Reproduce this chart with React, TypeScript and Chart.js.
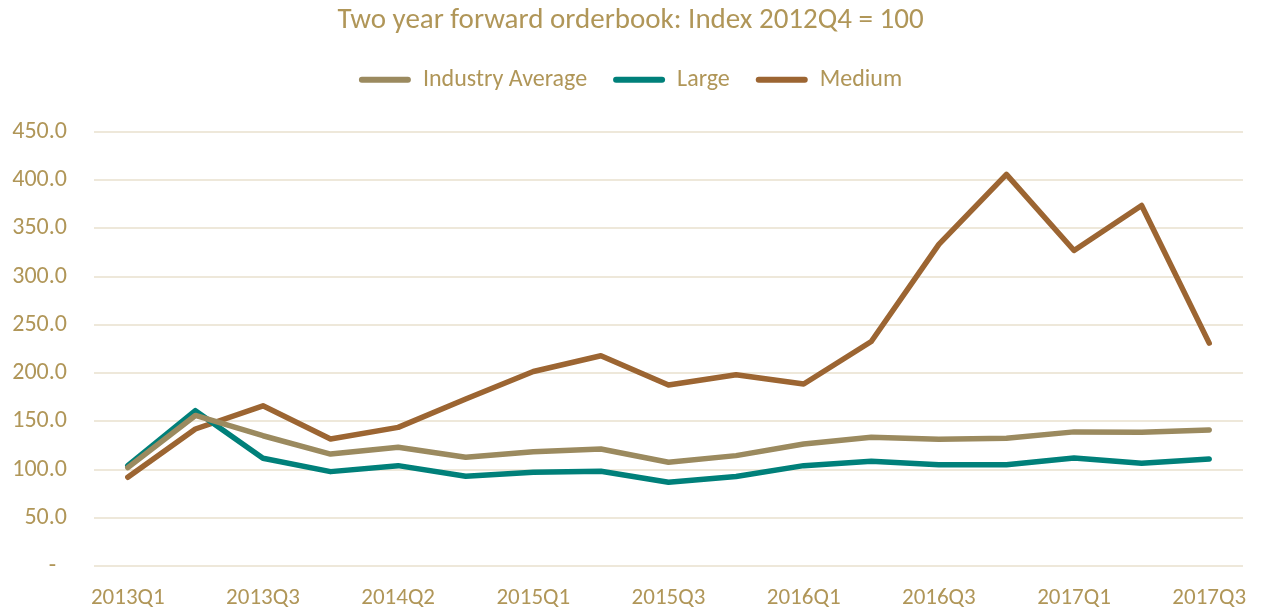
import React, { useEffect, useRef } from "react";
import { Chart, registerables } from "chart.js";

Chart.register(...registerables);

const categories = [
  "2013Q1", "2013Q2", "2013Q3", "2013Q4", "2014Q2", "2014Q3", "2015Q1", "2015Q2",
  "2015Q3", "2015Q4", "2016Q1", "2016Q2", "2016Q3", "2016Q4", "2017Q1", "2017Q2", "2017Q3",
];
const industryAverage = [102, 156, 135, 116, 123, 112.7, 118.5, 121.3, 107.5, 114.4, 126.5, 133.5, 131.3, 132.5, 139, 138.5, 141];
const large = [104, 161, 111.6, 97.8, 104, 93, 97.2, 98.2, 86.8, 92.7, 104, 108.5, 105, 105, 112, 106.5, 111];
const medium = [92, 142, 166, 131.7, 143.7, 173, 201.6, 217.9, 187.5, 198.2, 188.6, 232.7, 333.4, 405.8, 327, 373.7, 231];

const TEXT = "#B09658";
const GRID = "#EEE8DA";
const FONT = "Carlito, Calibri, Lato, sans-serif";

export default function App() {
  const ref = useRef<HTMLCanvasElement | null>(null);
  useEffect(() => {
    if (!ref.current) return;
    const legendMargin = {
      id: "legendMargin",
      beforeInit(chart: any) {
        const orig = chart.legend.fit;
        chart.legend.fit = function () {
          orig.bind(chart.legend)();
          this.height += 30;
        };
      },
    };
    const mk = (label: string, data: number[], color: string) => ({
      label,
      data,
      borderColor: color,
      backgroundColor: color,
      borderWidth: 5.5,
      pointRadius: 0,
      tension: 0,
      borderCapStyle: "round" as const,
      borderJoinStyle: "round" as const,
      yAxisID: "y",
    });
    const defaultGen = Chart.defaults.plugins.legend.labels.generateLabels;
    const chart = new Chart(ref.current, {
      type: "line",
      data: {
        labels: categories,
        datasets: [
          mk("Industry Average", industryAverage, "#9B8A5F"),
          mk("Large", large, "#00807A"),
          mk("Medium", medium, "#9C6532"),
        ],
      },
      options: {
        animation: false,
        responsive: false,
        layout: { padding: 0 },
        plugins: {
          title: {
            display: true,
            text: "Two year forward orderbook: Index 2012Q4 = 100",
            color: TEXT,
            font: { family: FONT, size: 29, weight: "normal" },
            padding: { top: 3, bottom: 4 },
          },
          legend: {
            display: true,
            labels: {
              color: TEXT,
              font: { family: FONT, size: 24 },
              boxWidth: 52,
              boxHeight: 6,
              padding: 26,
              useBorderRadius: true,
              borderRadius: 3,
              generateLabels: (c: any) =>
                defaultGen(c).map((l: any) => ({ ...l, lineWidth: 0 })),
            },
          },
          tooltip: { enabled: false },
        },
        scales: {
          x: {
            offset: true,
            grid: { display: false },
            border: { display: false },
            ticks: {
              color: TEXT,
              font: { family: FONT, size: 23 },
              autoSkip: false,
              maxRotation: 0,
              padding: 10,
              callback: (_v: any, i: number) => (i % 2 === 0 ? categories[i] : ""),
            },
            afterFit: (s: any) => {
              s.height = 44;
            },
          },
          y: {
            min: 0,
            max: 450,
            grid: { color: GRID, lineWidth: 2, drawTicks: false },
            border: { display: false },
            ticks: {
              stepSize: 50,
              color: TEXT,
              font: { family: FONT, size: 24 },
              padding: 27,
              callback: (v: any) => (Number(v) === 0 ? "-  " : Number(v).toFixed(1)),
            },
            afterFit: (s: any) => {
              s.width = 94;
            },
          },
          yRight: {
            position: "right",
            min: 0,
            max: 450,
            grid: { display: false },
            border: { display: false },
            ticks: { display: false },
            afterFit: (s: any) => {
              s.width = 18;
            },
          },
        },
      },
      plugins: [legendMargin],
    });
    return () => chart.destroy();
  }, []);
  return (
    <div style={{ position: "fixed", left: 0, top: 0, width: 1261, height: 610, background: "#fff" }}>
      <canvas ref={ref} width={1261} height={610} />
    </div>
  );
}
